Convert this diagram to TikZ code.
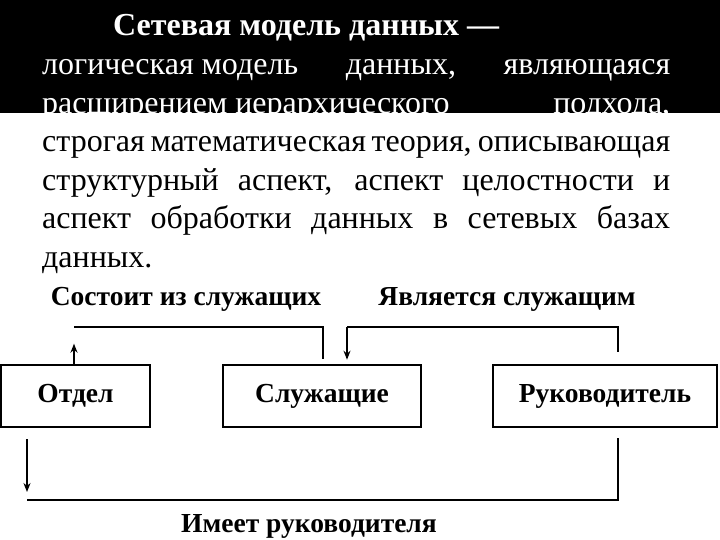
\documentclass[tikz,border=0pt]{standalone}
\usepackage{fontspec}
\setmainfont{Liberation Serif}
\usetikzlibrary{positioning,calc,arrows.meta}
\tikzset{
  slidetext/.style={anchor=base west, inner sep=0pt, font=\fontsize{32}{38}\selectfont},
  slidetextwhite/.style={slidetext, text=white},
  entitybox/.style={draw, line width=2.6pt, minimum height=62pt, inner sep=0pt,
    font=\fontsize{27.5}{30}\selectfont\bfseries},
  linkline/.style={line width=2pt},
  linkarrow/.style={linkline, -{Stealth[length=9pt, width=7pt]}},
  linklabel/.style={anchor=base, inner sep=0pt, font=\fontsize{27.5}{30}\selectfont\bfseries},
}
\newcommand{\fullline}[1]{\makebox[628pt][s]{#1}}

\begin{document}
\begin{tikzpicture}[x=1pt,y=-1pt]
		\useasboundingbox (0,0) rectangle (720,540);
		\fill[white] (0,0) rectangle (720,540);

		% Top: definition on the dark band
		\fill[black] (0,0) rectangle (720,113);
		\node[slidetextwhite, font=\fontsize{32}{38}\selectfont\bfseries] (title) at (113,36)
		{Сетевая модель данных —};
		\node[slidetextwhite] (line2) at (42,75)
		{\makebox[628pt][l]{логическая модель\hfill данных,\hfill являющаяся}};
		\node[slidetextwhite] (line3) at (42,113.5)
		{\makebox[628pt][l]{расширением иерархического\hfill подхода,}};
		\node[slidetext] (line4) at (42,152) {\fullline{строгая математическая теория, описывающая}};
		\node[slidetext] (line5) at (42,190.5) {\fullline{структурный аспект, аспект целостности и}};
		\node[slidetext] (line6) at (42,229) {\fullline{аспект обработки данных в сетевых базах}};
		\node[slidetext] (line7) at (42,267.5) {данных.};

		% Entities
		\node[entitybox, minimum width=149pt] (otdel) at (75.5,396) {Отдел};
		\node[entitybox, minimum width=198pt] (sluzh) at (322,396) {Служащие};
		\node[entitybox, minimum width=224pt] (ruk) at (605,396) {Руководитель};

		% Link points
		\coordinate (consistsL) at (74,327);
		\coordinate (consistsR) at (323,327);
		\coordinate (isL) at (347,327);
		\coordinate (isR) at (618,327);
		\coordinate (hasL) at (27,500);
		\coordinate (hasR) at (618,500);

		% Состоит из служащих
		\draw[linkline] ($(sluzh.north)+(1,-5)$) -- (consistsR) -- (consistsL);
		\draw[linkarrow] (otdel.north -| consistsL) -- ++(0,-20);
		\node[linklabel] (lblconsists) at (186,305) {Состоит из служащих};

		% Является служащим
		\draw[linkline] ($(ruk.north -| isR)+(0,-12)$) -- (isR) -- (isL);
		\draw[linkarrow] (isL) -- ($(sluzh.north -| isL)+(0,-4)$);
		\node[linklabel] (lblis) at (507,305) {Является служащим};

		% Имеет руководителя
		\draw[linkline] ($(ruk.south -| hasR)+(0,10)$) -- (hasR) -- (hasL);
		\draw[linkarrow] ($(otdel.south -| hasL)+(0,11)$) -- ($(hasL)+(0,-8)$);
		\node[linklabel] (lblhas) at (309,532) {Имеет руководителя};
	\end{tikzpicture}
\end{document}
